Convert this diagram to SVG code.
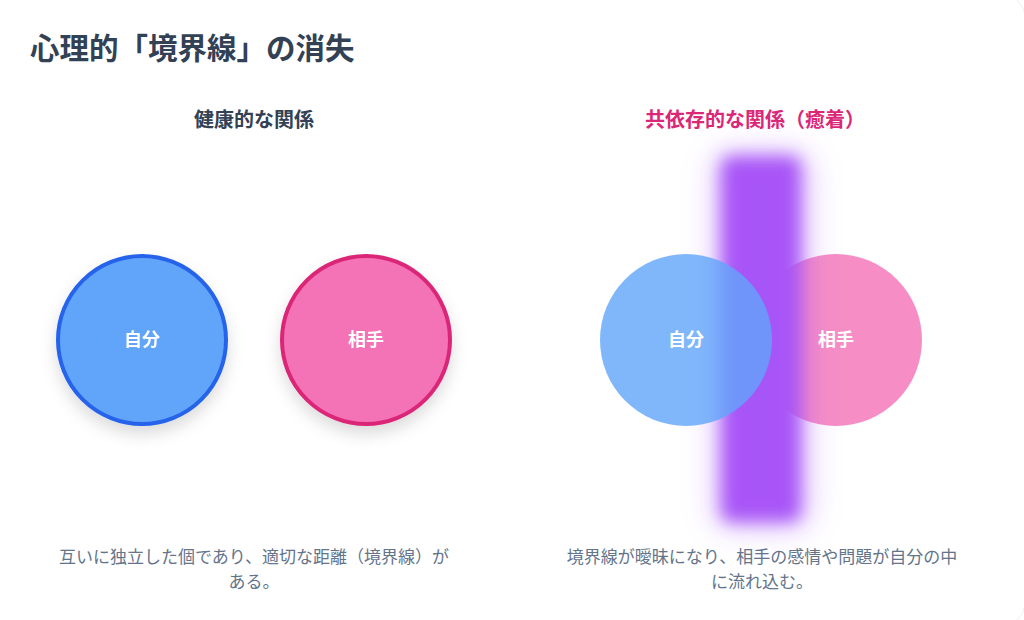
<svg xmlns="http://www.w3.org/2000/svg" width="1024" height="620" viewBox="0 0 1024 620">
  <defs>
    <style>
      .jp { font-family: "Noto Sans CJK JP", "Noto Sans", sans-serif; }
      .title { font-size: 29.5px; font-weight: 700; fill: #334155; }
      .sub { font-size: 20px; font-weight: 700; text-anchor: middle; }
      .lbl { font-size: 18px; font-weight: 700; fill: #ffffff; text-anchor: middle; }
      .desc { font-size: 17px; fill: #64748b; text-anchor: middle; }
    </style>
    <filter id="shadow" x="-30%" y="-30%" width="160%" height="170%">
      <feDropShadow dx="0" dy="8" stdDeviation="8" flood-color="#000000" flood-opacity="0.14"/>
    </filter>
    <filter id="blur" x="-60%" y="-20%" width="220%" height="140%">
      <feGaussianBlur stdDeviation="8.5"/>
    </filter>
    <filter id="glow" x="-80%" y="-30%" width="260%" height="160%">
      <feGaussianBlur stdDeviation="16"/>
    </filter>
  </defs>

  <rect x="0" y="0" width="1024" height="620" fill="#ffffff"/>
  <rect x="-20" y="-6" width="1045" height="632" rx="24" fill="none" stroke="#f0f0f0" stroke-width="1"/>

  <text class="jp title" x="30" y="59">心理的「境界線」の消失</text>

  <g id="healthy">
    <text class="jp sub" x="254" y="127" fill="#334155">健康的な関係</text>
    <g id="self-healthy" filter="url(#shadow)">
      <circle cx="142" cy="340" r="84" fill="#60a5fa" stroke="#2563eb" stroke-width="4"/>
      <text class="jp lbl" x="142" y="346">自分</text>
    </g>
    <g id="other-healthy" filter="url(#shadow)">
      <circle cx="366" cy="340" r="84" fill="#f472b6" stroke="#db2777" stroke-width="4"/>
      <text class="jp lbl" x="366" y="346">相手</text>
    </g>
    <text class="jp desc" x="254" y="563">互いに独立した個であり、適切な距離（境界線）が</text>
    <text class="jp desc" x="254" y="588">ある。</text>
  </g>

  <g id="codependent">
    <text class="jp sub" x="755" y="127" fill="#db2777">共依存的な関係（癒着）</text>
    <g id="other-co">
      <circle cx="836" cy="340" r="86" fill="#f472b6" fill-opacity="0.8"/>
    </g>
    <g id="boundary">
      <rect x="712" y="150" width="100" height="380" rx="20" fill="#a855f7" opacity="0.25" filter="url(#glow)"/>
      <rect x="721" y="156" width="80" height="366" rx="10" fill="#a855f7" filter="url(#blur)"/>
    </g>
    <g id="self-co">
      <circle cx="686" cy="340" r="86" fill="#60a5fa" fill-opacity="0.8"/>
      <text class="jp lbl" x="686" y="346">自分</text>
    </g>
    <text class="jp lbl" x="836" y="346">相手</text>
    <text class="jp desc" x="762" y="563">境界線が曖昧になり、相手の感情や問題が自分の中</text>
    <text class="jp desc" x="762" y="588">に流れ込む。</text>
  </g>
</svg>
